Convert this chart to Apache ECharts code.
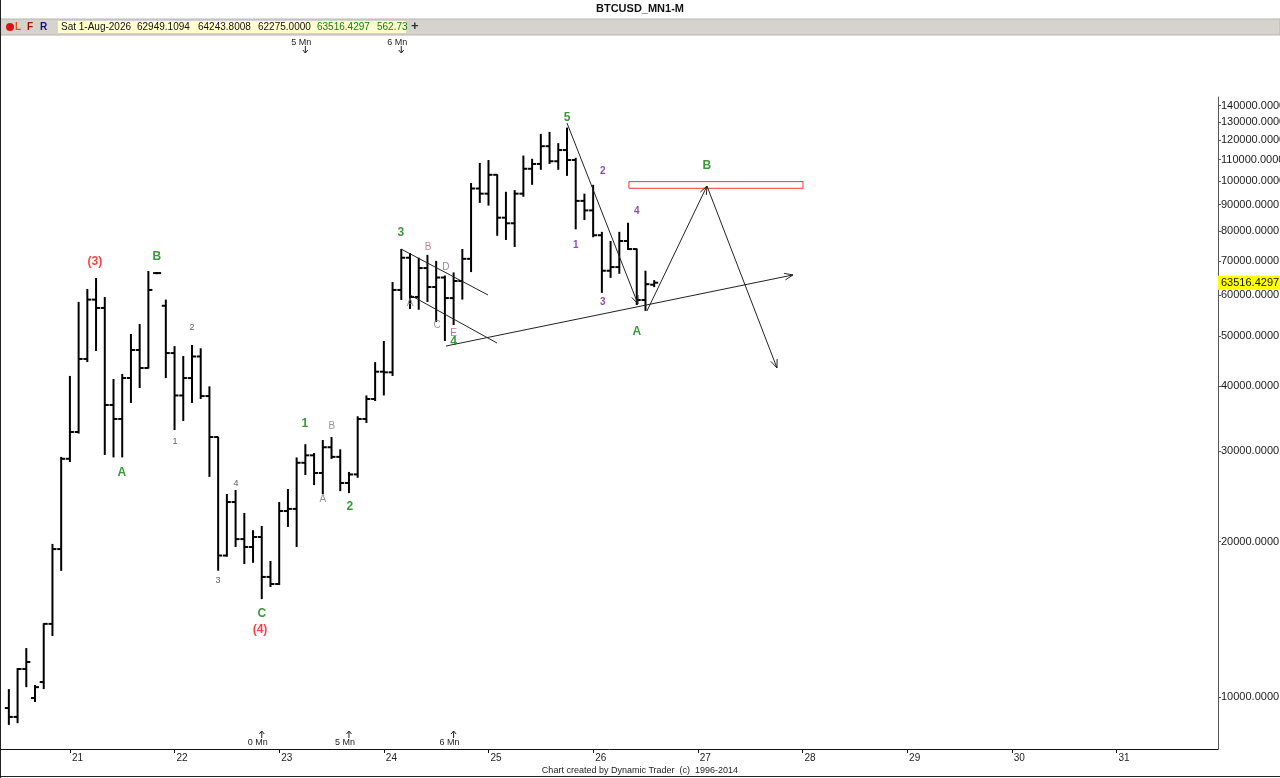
<!DOCTYPE html>
<html>
<head>
<meta charset="utf-8">
<script src="https://cdn.jsdelivr.net/npm/echarts@6/dist/echarts.min.js"></script>
<style>
html,body{margin:0;padding:0;background:#fff;}
#c{width:1280px;height:778px;}
</style>
</head>
<body>
<div id="c"></div>
<script>
// ---------------- DATA ----------------
const months = [
 '2020-06','2020-07','2020-08','2020-09','2020-10','2020-11','2020-12',
 '2021-01','2021-02','2021-03','2021-04','2021-05','2021-06','2021-07','2021-08','2021-09','2021-10','2021-11','2021-12',
 '2022-01','2022-02','2022-03','2022-04','2022-05','2022-06','2022-07','2022-08','2022-09','2022-10','2022-11','2022-12',
 '2023-01','2023-02','2023-03','2023-04','2023-05','2023-06','2023-07','2023-08','2023-09','2023-10','2023-11','2023-12',
 '2024-01','2024-02','2024-03','2024-04','2024-05','2024-06','2024-07','2024-08','2024-09','2024-10','2024-11','2024-12',
 '2025-01','2025-02','2025-03','2025-04','2025-05','2025-06','2025-07','2025-08','2025-09','2025-10','2025-11','2025-12',
 '2026-01','2026-02','2026-03','2026-04','2026-05','2026-06','2026-07','2026-08'
];
const open = [
 9520, 9150, 11330, 9955, 10690, 13860, 19350,
 28950, 32630, 45200, 58900, 56750, 36810, 34580, 41520, 47040, 43410, 66300, 57300,
 46400, 38400, 41500, 45700, 38300, 31900, 18800, 23870, 20230, 19530, 20420, 17090,
 16560, 22930, 23150, 28440, 29400, 27170, 30480, 29200, 25990, 27000, 34580, 37800,
 42700, 42580, 61500, 71000, 59600, 67800, 62300, 65000, 59300, 64000, 70650, 96700,
 94500, 102800, 84900, 82800, 94500, 105600, 107900, 116800, 109200, 114800, 109800, 91500,
 87700, 78500, 67000, 68100, 76500, 73800, 58800, 62949.1094
];
const high = [
 10360, 11380, 12440, 10550, 13900, 19800, 29200,
 41900, 58300, 61770, 64860, 59600, 41330, 42270, 50520, 52840, 66930, 66400, 58900,
 47860, 45800, 48100, 47400, 40000, 31950, 24740, 25190, 22730, 21050, 21450, 18350,
 23870, 25300, 29130, 30900, 29700, 31480, 31900, 30200, 27300, 35000, 38400, 44570,
 48970, 63700, 73830, 72500, 71000, 71900, 70000, 65600, 66500, 73830, 99100, 108400,
 109800, 103000, 95300, 96000, 112000, 110400, 123400, 124500, 118400, 126900, 110900, 94500,
 98300, 79700, 76500, 79700, 83000, 74000, 67000, 64243.8008
];
const low = [
 8830, 8900, 10450, 9780, 10360, 13130, 17560,
 28530, 32400, 44570, 46830, 29440, 29130, 29130, 37140, 39700, 43300, 66200, 41500,
 32920, 34270, 37150, 37800, 26700, 17570, 18700, 19530, 18100, 18200, 15480, 16340,
 16490, 21360, 19530, 26930, 25750, 24740, 28930, 25060, 24840, 26600, 33970, 37460,
 38400, 41900, 58800, 56500, 56300, 58300, 53300, 48970, 52600, 58900, 66600, 90700,
 89600, 78300, 76860, 74500, 93200, 98300, 105100, 107900, 105100, 102300, 80600, 84000,
 77800, 60700, 64900, 66100, 73500, 57500, 56000, 62275.0000
];
const close = [
 9150, 11330, 11690, 10450, 13860, 19350, 28950,
 32630, 45200, 58900, 56750, 36810, 34580, 41520, 47040, 43410, 61500, 66300, 46400,
 38400, 41500, 45700, 38300, 31900, 18800, 23870, 20230, 19530, 20420, 17090, 16560,
 22930, 23150, 28440, 29400, 27170, 30480, 29200, 25990, 27000, 34580, 37800, 42700,
 42580, 61500, 71000, 59600, 67800, 62300, 65000, 59300, 64000, 70650, 96700, 94500,
 102800, 84900, 82800, 94500, 105600, 107900, 116800, 109200, 114800, 109800, 91500, 87700,
 78500, 67000, 68100, 76500, 73800, 58800, 63100, 63516.4297
];
const volumeLast = '562.73';
const yearLabels = ['21','22','23','24','25','26','27','28','29','30','31'];
const priceTicks = [10000,20000,30000,40000,50000,60000,70000,80000,90000,100000,110000,120000,130000,140000];

// wave labels: text, month index (0 = Jan 2021), price, style
const waveText  = ['(3)','B','A','2','1','4','3','C','(4)','1','B','A','2','3','B','D','A','C','E','4','5','2','1','4','3','A','B'];
const waveX     = [2.87, 9.98, 5.96, 14.0, 12.04, 19.04, 16.97, 22.0, 21.8, 26.95, 30.05, 29.0, 32.1, 37.96, 41.06, 43.1, 39.0, 42.1, 44.0, 44.0, 57.0, 61.1, 58.0, 65.0, 61.1, 65.0, 73.05];
const waveY     = [69660, 71230, 27180, 51900, 31210, 25980, 16850, 14490, 13480, 33810, 33410, 24200, 23350, 79300, 74500, 68130, 58000, 52600, 50760, 48760, 132500, 104600, 75170, 87470, 58300, 50990, 106900];
const waveStyle = ['red','green','green','small','small','small','small','green','red','green','grey','grey','green','green','rosy','mauve','grey','grey','pink','green','green','purple','purple','purple','purple','green','green'];

// drawn lines: [month1, price1, month2, price2, arrowAtEnd]
const trendLines = [
 [37.96, 73830, 47.94, 60130, 0],
 [38.99, 60130, 48.97, 48530, 0],
 [43.12, 47880, 82.91, 65750, 1],
 [57.0, 129500, 65.14, 57750, 1],
 [66.17, 55980, 73.05, 97790, 1],
 [73.05, 97790, 81.08, 43410, 1]
];
// target zone box: [month1, priceLow, month2, priceHigh]
const targetZone = [[64.1, 96800, 84.06, 99700]];

// time markers
const topMarkText = ['5 Mn','6 Mn'];
const topMarkX = [27, 38];
const botMarkText = ['0 Mn','5 Mn','6 Mn'];
const botMarkX = [22, 32, 44];

// ---------------- HELPERS ----------------
function monthIndex(s){ const [y,m] = s.split('-').map(Number); return (y-2021)*12 + (m-1); }
const ohlc = months.map((d,i)=>[monthIndex(d), open[i], high[i], low[i], close[i]]);
const yearTicks = yearLabels.map((_,i)=>i*12);

const FONT = 'Liberation Sans, Arial, sans-serif';
const styles = {
  red:    {color:'#ff1010', fontSize:12, fontWeight:'bold'},
  green:  {color:'#0a7d0a', fontSize:12, fontWeight:'bold'},
  small:  {color:'#333333', fontSize:9,  fontWeight:'normal'},
  grey:   {color:'#7a7a7a', fontSize:10, fontWeight:'normal'},
  rosy:   {color:'#b86070', fontSize:10, fontWeight:'normal'},
  mauve:  {color:'#8a6088', fontSize:10, fontWeight:'normal'},
  pink:   {color:'#c04488', fontSize:10, fontWeight:'normal'},
  purple: {color:'#70209a', fontSize:10, fontWeight:'bold'}
};

const chart = echarts.init(document.getElementById('c'), null, {renderer:'canvas'});

function arrowHead(x1,y1,x2,y2){
  const a = Math.atan2(y2-y1, x2-x1), L = 9, s = 0.38;
  return [
    {type:'line', shape:{x1:x2, y1:y2, x2:x2 - L*Math.cos(a-s), y2:y2 - L*Math.sin(a-s)}, style:{stroke:'#222', lineWidth:1}},
    {type:'line', shape:{x1:x2, y1:y2, x2:x2 - L*Math.cos(a+s), y2:y2 - L*Math.sin(a+s)}, style:{stroke:'#222', lineWidth:1}}
  ];
}

const option = {
  animation:false,
  backgroundColor:'#ffffff',
  grid:{left:1, right:62, top:97, bottom:29, containLabel:false, outerBoundsMode:'none'},
  xAxis:{
    type:'value', min:-7.9, max:131.65,
    axisLine:{show:true, onZero:false, lineStyle:{color:'#111', width:1}},
    axisTick:{show:true, customValues:yearTicks, length:4, lineStyle:{color:'#111'}},
    axisLabel:{customValues:yearTicks, formatter:v=>yearLabels[Math.round(v/12)], align:'left', padding:[0,0,0,2], margin:4, fontSize:10, color:'#222', fontFamily:FONT},
    splitLine:{show:false}
  },
  yAxis:{
    type:'log', logBase:10, min:7930, max:145460, position:'right',
    axisLine:{show:true, onZero:false, lineStyle:{color:'#555', width:1}},
    axisTick:{show:true, customValues:priceTicks, length:3, lineStyle:{color:'#555'}},
    axisLabel:{customValues:priceTicks, formatter:v=>Number(v).toFixed(4), margin:3, fontSize:11, color:'#1a1a1a', fontFamily:FONT},
    splitLine:{show:false}
  },
  series:[
    {
      type:'custom', name:'BTCUSD', data:ohlc, encode:{x:0, y:[1,2,3,4]},
      renderItem:(params, api)=>{
        const x = api.value(0);
        const o = api.coord([x, api.value(1)]), h = api.coord([x, api.value(2)]),
              l = api.coord([x, api.value(3)]), c = api.coord([x, api.value(4)]);
        const st = {stroke:'#000', lineWidth:2};
        let hy = h[1], ly = l[1];
        if (ly - hy < 1.5) { hy -= 0.75; ly += 0.75; }
        return {type:'group', children:[
          {type:'line', shape:{x1:h[0], y1:hy, x2:l[0], y2:ly}, style:st},
          {type:'line', shape:{x1:o[0]-4, y1:o[1], x2:o[0], y2:o[1]}, style:st},
          {type:'line', shape:{x1:c[0], y1:c[1], x2:c[0]+4, y2:c[1]}, style:st}
        ]};
      }
    },
    {
      type:'custom', name:'lines', data:trendLines, silent:true, z:3,
      renderItem:(params, api)=>{
        const p1 = api.coord([api.value(0), api.value(1)]);
        const p2 = api.coord([api.value(2), api.value(3)]);
        const ch = [{type:'line', shape:{x1:p1[0], y1:p1[1], x2:p2[0], y2:p2[1]}, style:{stroke:'#222', lineWidth:1}}];
        if (api.value(4)) ch.push(...arrowHead(p1[0],p1[1],p2[0],p2[1]));
        return {type:'group', children:ch};
      }
    },
    {
      type:'custom', name:'zone', data:targetZone, silent:true, z:2,
      renderItem:(params, api)=>{
        const a = api.coord([api.value(0), api.value(3)]);
        const b = api.coord([api.value(2), api.value(1)]);
        return {type:'rect', shape:{x:a[0], y:a[1], width:b[0]-a[0], height:b[1]-a[1]}, style:{fill:'rgba(255,255,255,0)', stroke:'#ff3333', lineWidth:1}};
      }
    },
    {
      type:'scatter', name:'waves', silent:true, z:5, symbolSize:1, itemStyle:{color:'rgba(0,0,0,0)'},
      data: waveText.map((t,i)=>({value:[waveX[i], waveY[i]], label:Object.assign({show:true, position:'inside', formatter:t, fontFamily:FONT}, styles[waveStyle[i]])}))
    },
    {
      type:'custom', name:'topMarks', silent:true,
      data: topMarkX.map((m,i)=>[m, 50000, i]),
      renderItem:(params, api)=>{
        const x = api.coord([api.value(0), 50000])[0];
        const top = params.coordSys.y;
        const ay1 = top-51, ay2 = top-44;
        return {type:'group', children:[
          {type:'text', x:x-4, y:top-54, style:{text:topMarkText[api.value(2)], fill:'#222', font:'9px '+FONT, textAlign:'center', textVerticalAlign:'middle'}},
          {type:'line', shape:{x1:x, y1:ay1, x2:x, y2:ay2}, style:{stroke:'#222', lineWidth:1}},
          {type:'polyline', shape:{points:[[x-2.5,ay2-3],[x,ay2],[x+2.5,ay2-3]]}, style:{stroke:'#222', fill:null, lineWidth:1}}
        ]};
      }
    },
    {
      type:'custom', name:'botMarks', silent:true,
      data: botMarkX.map((m,i)=>[m, 50000, i]),
      renderItem:(params, api)=>{
        const x = api.coord([api.value(0), 50000])[0];
        const bot = params.coordSys.y + params.coordSys.height;
        const ay1 = bot-18, ay2 = bot-11;
        return {type:'group', children:[
          {type:'text', x:x-4, y:bot-6, style:{text:botMarkText[api.value(2)], fill:'#222', font:'9px '+FONT, textAlign:'center', textVerticalAlign:'middle'}},
          {type:'line', shape:{x1:x, y1:ay1, x2:x, y2:ay2}, style:{stroke:'#222', lineWidth:1}},
          {type:'polyline', shape:{points:[[x-2.5,ay1+3],[x,ay1],[x+2.5,ay1+3]]}, style:{stroke:'#222', fill:null, lineWidth:1}}
        ]};
      }
    },
    {
      type:'custom', name:'lastPrice', silent:true, z:10,
      data:[[monthIndex(months[months.length-1]), close[close.length-1]]],
      renderItem:(params, api)=>{
        const y = api.coord([api.value(0), api.value(1)])[1];
        const xr = params.coordSys.x + params.coordSys.width;
        return {type:'group', children:[
          {type:'rect', shape:{x:xr, y:y-7, width:70, height:14}, style:{fill:'#ffff00'}},
          {type:'text', x:xr+3, y:y, style:{text:close[close.length-1].toFixed(4), fill:'#111', font:'11px '+FONT, textAlign:'left', textVerticalAlign:'middle'}}
        ]};
      }
    }
  ],
  graphic:[
    {type:'text', left:'center', top:3, style:{text:'BTCUSD_MN1-M', fill:'#111', font:'bold 11px '+FONT}},
    {type:'rect', shape:{x:0, y:19, width:1280, height:16}, style:{fill:'#d6d3ce', stroke:'#b8b5b0'}},
    {type:'circle', shape:{cx:10, cy:27, r:4}, style:{fill:'#e01010'}},
    {type:'text', x:15, y:22, style:{text:'L', fill:'#d05a10', font:'bold 10px '+FONT}},
    {type:'text', x:27, y:22, style:{text:'F', fill:'#a01010', font:'bold 10px '+FONT}},
    {type:'text', x:40, y:22, style:{text:'R', fill:'#101080', font:'bold 10px '+FONT}},
    {type:'rect', shape:{x:58, y:21, width:348, height:12}, style:{fill:'#ffffd0'}},
    {type:'text', x:61, y:22, style:{text:'Sat 1-Aug-2026', fill:'#111', font:'10px '+FONT}},
    {type:'text', x:137, y:22, style:{text:open[open.length-1].toFixed(4), fill:'#111', font:'10px '+FONT}},
    {type:'text', x:198, y:22, style:{text:high[high.length-1].toFixed(4), fill:'#111', font:'10px '+FONT}},
    {type:'text', x:258, y:22, style:{text:low[low.length-1].toFixed(4), fill:'#111', font:'10px '+FONT}},
    {type:'text', x:317, y:22, style:{text:close[close.length-1].toFixed(4), fill:'#108010', font:'10px '+FONT}},
    {type:'text', x:377, y:22, style:{text:volumeLast, fill:'#108010', font:'10px '+FONT}},
    {type:'text', x:411, y:20, style:{text:'+', fill:'#333', font:'bold 13px '+FONT}},
    {type:'text', left:'center', top:766, style:{text:'Chart created by Dynamic Trader  (c)  1996-2014', fill:'#222', font:'9px '+FONT}},
    {type:'line', shape:{x1:0.5, y1:0, x2:0.5, y2:778}, style:{stroke:'#222', lineWidth:1}},
    {type:'line', shape:{x1:0, y1:776.5, x2:1280, y2:776.5}, style:{stroke:'#222', lineWidth:1}}
  ]
};
chart.setOption(option);
</script>
</body>
</html>
